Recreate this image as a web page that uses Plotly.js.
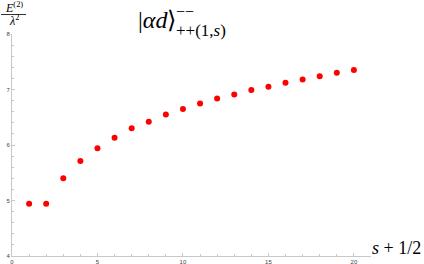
<!DOCTYPE html>
<html>
<head>
<meta charset="utf-8">
<script src="https://cdn.plot.ly/plotly-3.0.1.min.js"></script>
<style>html,body{margin:0;padding:0;background:#fff;}#chart{width:424px;height:264px;}</style>
</head>
<body>
<div id="chart"></div>
<script>
const sValues = [1,2,3,4,5,6,7,8,9,10,11,12,13,14,15,16,17,18,19,20];
const energy = [4.94,4.94,5.40,5.71,5.94,6.13,6.30,6.42,6.55,6.65,6.75,6.84,6.91,6.99,7.05,7.12,7.18,7.24,7.30,7.35];
const xTicks = [0,5,10,15,20];
const yTicks = [4,5,6,7,8];

const W = 424, H = 264;
const M = {l:12, r:53, t:34, b:8};
const pw = W - M.l - M.r, ph = H - M.t - M.b;
const px = x => (x - M.l) / pw;
const py = y => (H - M.b - y) / ph;

const serif = "Liberation Serif";
const axisCol = "#c8c8c8";

const trace = {
  x: sValues, y: energy, type: "scatter", mode: "markers",
  marker: {color: "#ff0000", size: 6}, hoverinfo: "none"
};

const axisCommon = {
  showline: true, linecolor: axisCol, linewidth: 1,
  showgrid: false, zeroline: false,
  ticks: "inside", ticklen: 3, tickcolor: axisCol, tickwidth: 1,
  tickfont: {size: 6, color: "#444", family: "Liberation Sans"},
  fixedrange: true
};

const layout = {
  width: W, height: H,
  margin: M,
  paper_bgcolor: "#fff", plot_bgcolor: "#fff",
  showlegend: false,
  xaxis: Object.assign({}, axisCommon, {
    range: [0, 21], tickvals: xTicks, ticktext: xTicks.map(String), ticklabelstandoff: 0,
    minor: {dtick: 1, tick0: 0, ticks: "inside", ticklen: 2, tickcolor: axisCol, showgrid: false}
  }),
  yaxis: Object.assign({}, axisCommon, {
    range: [4, 8], tickvals: yTicks, ticktext: yTicks.map(String),
    minor: {dtick: 0.2, tick0: 4, ticks: "inside", ticklen: 2, tickcolor: axisCol, showgrid: false}
  }),
  shapes: [
    {type: "line", xref: "paper", yref: "paper", x0: px(1), x1: px(26), y0: py(14.5), y1: py(14.5),
     line: {color: "#000", width: 0.8}}
  ],
  annotations: [
    {xref: "paper", yref: "paper", x: px(13.5), y: py(7.5), text: "<i>E</i><sup>(2)</sup>",
     showarrow: false, font: {family: serif, size: 12, color: "#000"}, xanchor: "center", yanchor: "middle"},
    {xref: "paper", yref: "paper", x: px(13.5), y: py(20.5), text: "<i>λ</i><sup>2</sup>",
     showarrow: false, font: {family: serif, size: 12, color: "#000"}, xanchor: "center", yanchor: "middle"},
    {xref: "paper", yref: "paper", x: px(136), y: py(20), text: "|<i>αd</i>⟩",
     showarrow: false, font: {family: serif, size: 24, color: "#000"}, xanchor: "left", yanchor: "middle"},
    {xref: "paper", yref: "paper", x: px(174), y: py(12), text: "−−",
     showarrow: false, font: {family: serif, size: 16, color: "#000"}, xanchor: "left", yanchor: "middle"},
    {xref: "paper", yref: "paper", x: px(174), y: py(31), text: "++(1,<i>s</i>)",
     showarrow: false, font: {family: serif, size: 17, color: "#000"}, xanchor: "left", yanchor: "middle"},
    {xref: "paper", yref: "paper", x: px(423), y: py(248), text: "<i>s</i> + 1/2",
     showarrow: false, font: {family: serif, size: 18, color: "#000"}, xanchor: "right", yanchor: "middle"}
  ]
};

Plotly.newPlot("chart", [trace], layout, {displayModeBar: false, staticPlot: true});
</script>
</body>
</html>
